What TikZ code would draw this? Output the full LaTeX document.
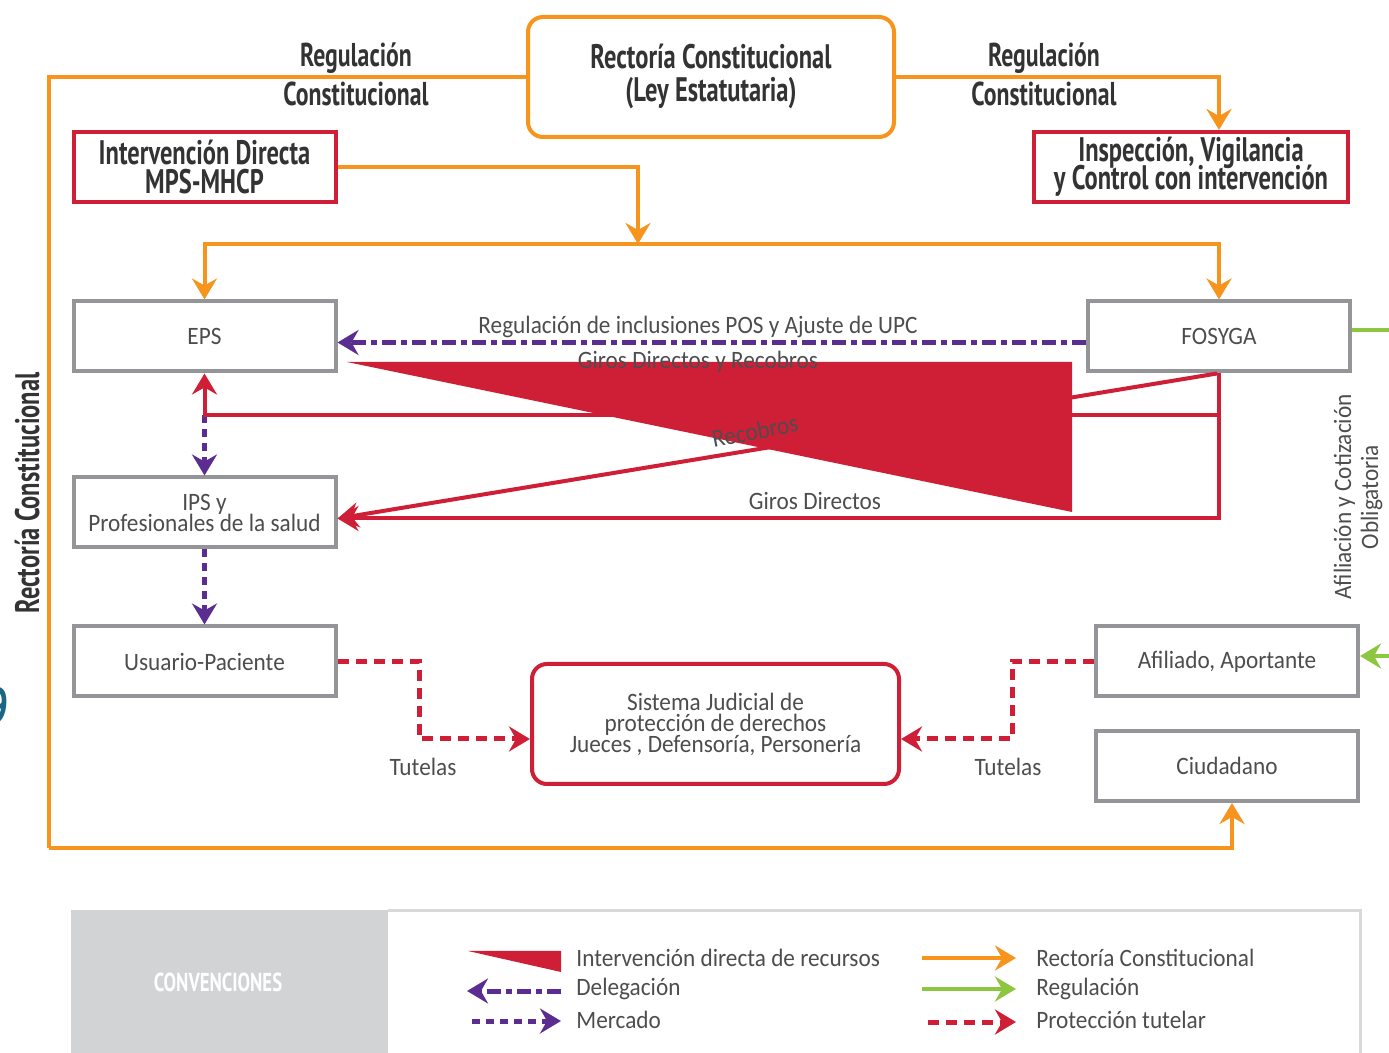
\documentclass[tikz,border=0pt]{standalone}
\usepackage{fontspec}
\usetikzlibrary{arrows.meta}
\newfontfamily\bodyfont[FakeStretch=0.93]{Carlito}
\newfontfamily\headfont[FakeStretch=0.72]{PT Sans}
\definecolor{rcorange}{HTML}{F7941D}
\definecolor{ivred}{HTML}{CF1F37}
\definecolor{mkpurple}{HTML}{5C2D91}
\definecolor{rggreen}{HTML}{8DC63F}
\definecolor{boxgray}{HTML}{939598}
\definecolor{txtgray}{HTML}{4D4D4F}
\definecolor{headdark}{HTML}{333333}
\definecolor{convgray}{HTML}{D1D3D4}
\definecolor{legline}{HTML}{D9D9DA}
\definecolor{pageblue}{HTML}{1B6589}
\begin{document}
\lineskiplimit=-100pt\relax
\begin{tikzpicture}[x=0.5pt,y=-0.5pt,
  every node/.append style={execute at begin node={\lineskiplimit=-100pt\relax}},
  tip/.tip={Stealth[length=10.5pt,width=12.5pt,inset=3.5pt]},
  bodytxt/.style={text=txtgray,font=\bodyfont\fontsize{12.5}{10.5}\selectfont},
  headtxt/.style={text=headdark,font=\headfont\bfseries\fontsize{17}{16.5}\selectfont},
  entity/.style={bodytxt,draw=boxgray,line width=2pt,fill=white,minimum width=131pt,
    minimum height=35pt,inner sep=0pt,align=center},
  ctrlbox/.style={headtxt,draw=ivred,line width=2pt,fill=white,minimum width=131pt,
    minimum height=35pt,inner sep=0pt,align=center,
    font=\headfont\bfseries\fontsize{17}{14.5}\selectfont},
  rcbox/.style={headtxt,draw=rcorange,line width=2pt,fill=white,rounded corners=7.5pt,
    minimum width=183pt,minimum height=60pt,inner sep=0pt,align=center},
  judbox/.style={bodytxt,draw=ivred,line width=2pt,fill=white,rounded corners=7.5pt,
    minimum width=183.5pt,minimum height=60pt,inner sep=0pt,align=center},
  headlbl/.style={headtxt,align=center,
    font=\headfont\bfseries\fontsize{16.5}{19.5}\selectfont},
  flowlbl/.style={bodytxt,align=center,inner sep=0pt},
  rectoria/.style={draw=rcorange,line width=2pt},
  regulacion/.style={draw=rggreen,line width=2pt},
  giro/.style={draw=ivred,line width=2pt},
  delegacion/.style={draw=mkpurple,line width=2.5pt,dash pattern=on 7pt off 2.5pt on 3pt off 2.5pt},
  mercado/.style={draw=mkpurple,line width=2.5pt,dash pattern=on 4pt off 3pt},
  tutela/.style={draw=ivred,line width=2.5pt,dash pattern=on 5.5pt off 3.5pt}
]
\useasboundingbox (0,0) rectangle (1389,1053);

% page number fragment at the left margin
\node[anchor=east,text=pageblue,font=\headfont\bfseries\fontsize{26}{26}\selectfont,inner sep=0pt]
  (pnum) at (9,706) {9};

% ---- actors -------------------------------------------------------------
\node[rcbox] (rc) at (711,77) {Rectoría Constitucional\\(Ley Estatutaria)};
\node[ctrlbox] (idm) at (204.5,167) {Intervención Directa\\MPS-MHCP};
\node[ctrlbox,minimum width=157pt,font=\headfont\bfseries\fontsize{17}{14}\selectfont]
  (ivc) at (1191,167) {Inspección, Vigilancia\\y Control con intervención};

\node[entity] (eps) at (204.5,336.5) {EPS};
\node[entity] (fos) at (1219,336.5) {FOSYGA};
\node[entity] (ips) at (204.5,512.5) {IPS y\\Profesionales de la salud};
\node[entity] (usr) at (204.5,661.5) {Usuario-Paciente};
\node[entity] (afi) at (1227,661.5) {Afiliado, Aportante};
\node[entity] (ciu) at (1227,766) {Ciudadano};
\node[judbox] (sj) at (715.5,724) {Sistema Judicial de\\protección de derechos\\Jueces , Defensoría, Personería};

% ---- helper points ------------------------------------------------------
\coordinate (lcorner) at (49,848);
\coordinate (hub) at (638,244);
\coordinate (rline) at (1217,415);
\coordinate (tl) at (419,739);
\coordinate (tr) at (1012,739);
\coordinate (gr1) at (1400,330);
\coordinate (gr2) at (1400,656);

% ---- constitutional stewardship (orange) --------------------------------
\draw[rectoria] (rc.west) -| (lcorner);
\draw[rectoria,-{tip}] (lcorner) -| ([xshift=2.5pt]ciu.south);
\draw[rectoria,-{tip}] (rc.east) -| (ivc.north -| fos.north);
\draw[rectoria,-{tip}] (idm.east) -| (hub);
\draw[rectoria,{tip}-{tip}] (eps.north) |- (hub) -| (fos.north);

% ---- regulation (green) -------------------------------------------------
\draw[regulacion] (fos.east |- gr1) -- (gr1);
\draw[regulacion,-{tip}] (gr2) -- (afi.east |- gr2);

% ---- delegation and market (purple) -------------------------------------
\draw[delegacion,-{tip}] ([yshift=-3pt]fos.west) -- ([yshift=-3pt]eps.east);
\draw[mercado,-{tip}] (eps.south |- rline) -- (ips.north);
\draw[mercado,-{tip}] (ips.south) -- (usr.north);

% ---- resource flows (red) -----------------------------------------------
\draw[giro,-{tip}] (fos.south) |- ([yshift=-3pt]ips.east);
\draw[giro,-{tip}] (fos.south |- rline) -| (eps.south);
\draw[giro,-{tip}] ([xshift=-1pt]fos.south) -- ([yshift=-3pt]ips.east);

% direct intervention on resources
\fill[ivred] (347,362) -- (1072,362) -- (1072,512) -- cycle;

% ---- protection by tutela (red dashed) ----------------------------------
\draw[tutela,-{tip}] (usr.east) -| (tl) -- (sj.west |- tl);
\draw[tutela,-{tip}] (afi.west) -| (tr) -- (sj.east |- tr);

% ---- labels -------------------------------------------------------------
\node[headlbl] (lblL) at (356,74.5) {Regulación\\Constitucional};
\node[headlbl] (lblR) at (1044,74.5) {Regulación\\Constitucional};
\node[headtxt,rotate=90] (lblV) at (27,493) {Rectoría Constitucional};

\node[flowlbl] (l1) at (698,327) {Regulación de inclusiones POS y Ajuste de UPC};
\node[flowlbl] (l2) at (698,362) {Giros Directos y Recobros};
\node[flowlbl,rotate=11] (l3) at (755,431) {Recobros};
\node[flowlbl] (l4) at (815,501) {Giros Directos};
\node[flowlbl] (l5) at (423,767) {Tutelas};
\node[flowlbl] (l6) at (1008,767) {Tutelas};
\node[flowlbl,rotate=90,font=\bodyfont\fontsize{12.5}{13.5}\selectfont] (l7) at (1358,497)
  {Afiliación y Cotización\\Obligatoria};

% ---- legend -------------------------------------------------------------
\fill[convgray] (71,910) rectangle (388,1053);
\draw[legline,line width=1.5pt] (388,911) -- (1360,911) -- (1360,1053);
\node[text=white,font=\headfont\bfseries\fontsize{13}{13}\selectfont] (conv) at (218,982) {CONVENCIONES};

\fill[ivred] (468,951) -- (561,951) -- (561,972) -- cycle;
\coordinate (dg1) at (561,991);  \coordinate (dg2) at (467,991);
\coordinate (mk1) at (472,1021); \coordinate (mk2) at (561,1021);
\coordinate (ro1) at (922,958);  \coordinate (ro2) at (1016,958);
\coordinate (rg1) at (922,989);  \coordinate (rg2) at (1016,989);
\coordinate (pt1) at (928,1022); \coordinate (pt2) at (1016,1022);
\draw[delegacion,-{tip}] (dg1) -- (dg2);
\draw[mercado,-{tip}] (mk1) -- (mk2);
\draw[rectoria,-{tip}] (ro1) -- (ro2);
\draw[regulacion,-{tip}] (rg1) -- (rg2);
\draw[tutela,-{tip}] (pt1) -- (pt2);

\node[flowlbl,anchor=west] (c1) at (576,958) {Intervención directa de recursos};
\node[flowlbl,anchor=west] (c2) at (576,989) {Delegación};
\node[flowlbl,anchor=west] (c3) at (576,1020) {Mercado};
\node[flowlbl,anchor=west] (c4) at (1036,958) {Rectoría Constitucional};
\node[flowlbl,anchor=west] (c5) at (1036,989) {Regulación};
\node[flowlbl,anchor=west] (c6) at (1036,1020) {Protección tutelar};
\end{tikzpicture}
\end{document}
